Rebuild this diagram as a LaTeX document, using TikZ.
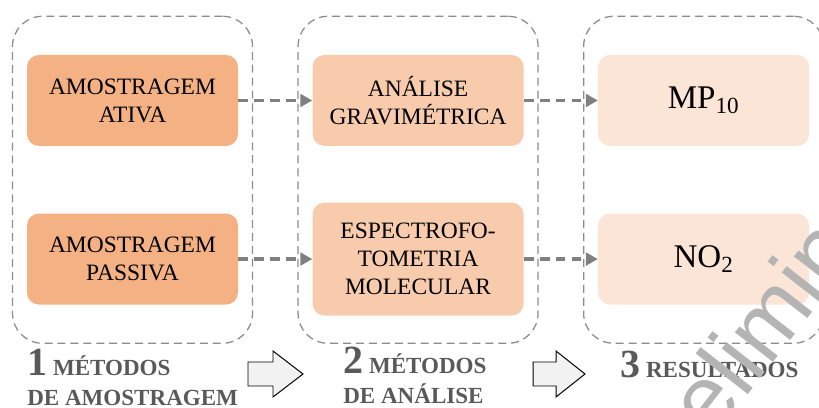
\documentclass[tikz,border=0pt]{standalone}
\usepackage{fontspec}
\setmainfont{Liberation Serif}
\newfontfamily\wmfont{Liberation Sans}
\usepackage{xcolor}
\definecolor{sampling}{RGB}{244,177,131}
\definecolor{analysis}{RGB}{248,203,173}
\definecolor{result}{RGB}{251,229,214}
\definecolor{linegray}{RGB}{128,128,128}
\definecolor{framegray}{RGB}{140,140,140}
\definecolor{labelgray}{RGB}{89,89,89}
\definecolor{arrowfill}{RGB}{242,242,242}
\definecolor{markgray}{RGB}{180,180,180}
\usepackage{tikz}
\usetikzlibrary{positioning, calc, arrows.meta}
\tikzstyle{stage} = [rectangle, fill=sampling, minimum width=5.275cm, minimum height=2.275cm, align=center, rounded corners=0.3cm, font=\fontsize{16.7}{20}\selectfont]
\tikzstyle{column} = [rectangle, draw=framegray, line width=0.9pt, dash pattern=on 5.7pt off 3.5pt, rounded corners=0.75cm, minimum width=6cm, minimum height=8.175cm]
\tikzstyle{flow} = [draw=linegray, line width=2.5pt, dash pattern=on 7pt off 4.3pt, -{Triangle[length=8.5pt, width=9pt]}]
\tikzstyle{steplabel} = [anchor=base west, inner sep=0pt, text=labelgray, font=\fontsize{16.4}{20}\selectfont\bfseries]
\tikzstyle{bigarrow} = [draw=black, line width=0.7pt, fill=arrowfill, line join=miter]
\newcommand{\stepnum}[1]{{\fontsize{28.4}{30}\selectfont #1}}

\begin{document}
\begin{tikzpicture}[node distance=1.85cm]
    \useasboundingbox (0,0) rectangle (20.475,-10.2);

    % boxes
    \node[stage] (ativa) at (3.3125,-2.5125) {AMOSTRAGEM\\ATIVA};
    \node[stage, fill=analysis, right=of ativa] (gravim) {ANÁLISE\\GRAVIMÉTRICA};
    \node[stage, fill=result, right=of gravim, font=\fontsize{23.5}{28}\selectfont] (mp) {MP\textsubscript{10}};
    \node[stage, below=1.675cm of ativa] (passiva) {AMOSTRAGEM\\PASSIVA};
    \node[stage, fill=analysis, right=of passiva, minimum height=2.825cm] (espectro) {ESPECTROFO-\\TOMETRIA\\MOLECULAR};
    \node[stage, fill=result, right=of espectro, font=\fontsize{23.5}{28}\selectfont] (no) {NO\textsubscript{2}};

    % dashed groups
    \node[column] (metodos) at ($(ativa)!0.5!(passiva)$) {};
    \node[column] (analise) at ($(gravim)!0.5!(espectro)$) {};
    \node[column] (resultados) at ($(mp)!0.5!(no)$) {};

    \draw[flow] (ativa) -- (gravim);
    \draw[flow] (gravim) -- (mp);
    \draw[flow] (passiva) -- (espectro);
    \draw[flow] (espectro) -- (no);

    % step labels
    \node[steplabel] (lab1) at (0.675,-9.375) {\stepnum{1} MÉTODOS};
    \node[steplabel] (lab1b) at ($(lab1.base west)+(0,-0.75)$) {DE AMOSTRAGEM};
    \node[steplabel] (lab2) at (8.575,-9.33) {\stepnum{2} MÉTODOS};
    \node[steplabel] (lab2b) at ($(lab2.base west)+(0,-0.75)$) {DE ANÁLISE};
    \node[steplabel] (lab3) at (15.5,-9.425) {\stepnum{3} RESULTADOS};

    \draw[bigarrow] (6.2,-9.05) -- ++(0.625,0) -- ++(0,0.275) -- ++(0.75,-0.575) -- ++(-0.75,-0.575) -- ++(0,0.275) -- ++(-0.625,0) -- cycle;
    \draw[bigarrow] (13.325,-9.05) -- ++(0.575,0) -- ++(0,0.275) -- ++(0.725,-0.575) -- ++(-0.725,-0.575) -- ++(0,0.275) -- ++(-0.575,0) -- cycle;

    % watermark
    \begin{scope}
        \clip (0,0) rectangle (20.475,-10.2);
        \node[anchor=base west, inner sep=0pt, rotate=52, text=markgray, font=\wmfont\fontsize{65}{70}\selectfont] (mark) at (16.4125,-12.7875) {Preliminar};
    \end{scope}
\end{tikzpicture}
\end{document}
